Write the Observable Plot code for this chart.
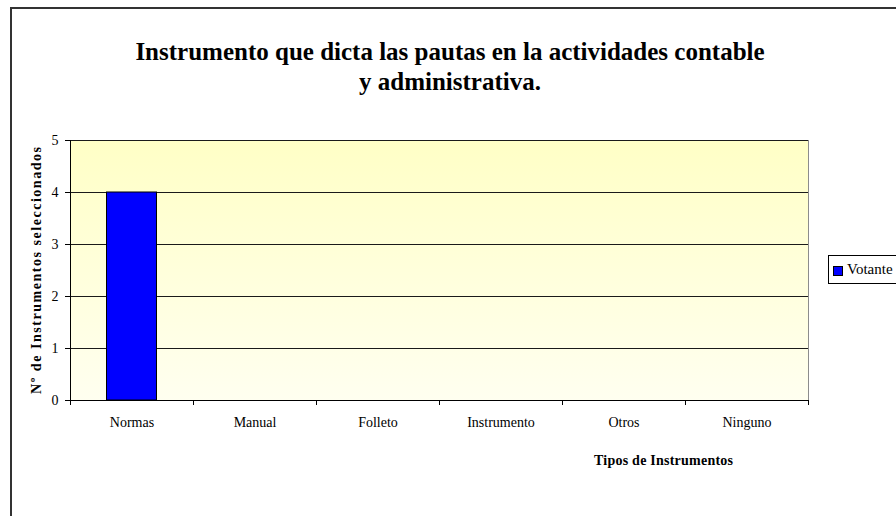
<!DOCTYPE html>
<html><head><meta charset="utf-8">
<script src="https://cdn.jsdelivr.net/npm/d3@7"></script>
<script src="https://cdn.jsdelivr.net/npm/@observablehq/plot@0.6"></script>
<style>
body{margin:0;background:#fff;}
#wrap{position:relative;width:896px;height:516px;overflow:hidden;background:#fff;font-family:"Liberation Serif","Times New Roman",serif;color:#000;}
#border{position:absolute;left:10px;top:7px;width:900px;height:520px;border-left:2px solid #333;border-top:2px solid #333;}
#chart{position:absolute;left:0;top:0;}
#chart svg, #chart svg text{font-family:"Liberation Serif","Times New Roman",serif !important;}
#title{position:absolute;left:0;top:37px;width:900px;text-align:center;font-weight:bold;font-size:25px;line-height:30px;}
#legend{position:absolute;left:828px;top:255px;width:80px;height:27px;border:1px solid #000;background:#fff;font-size:15px;}
#legend .sw{position:absolute;left:4px;top:10px;width:8px;height:8px;background:#0000ff;border:1px solid #000;}
#legend .lb{position:absolute;left:18px;top:5px;line-height:17px;}
</style></head>
<body>
<div id="wrap">
  <div id="border"></div>
  <div id="chart"></div>
  <div id="title">Instrumento que dicta las pautas en la actividades contable<br>y administrativa.</div>
  <div id="legend"><div class="sw"></div><div class="lb">Votante</div></div>
</div>
<script>
const categories = ["Normas", "Manual", "Folleto", "Instrumento", "Otros", "Ninguno"];
const votantes = [4, 0, 0, 0, 0, 0];
const yTicks = [0, 1, 2, 3, 4, 5];
const seriesName = "Votante";
const xLabel = "Tipos de Instrumentos";
const yLabel = "Nº de Instrumentos seleccionados";

const data = categories.map((c, i) => ({cat: c, value: votantes[i], serie: seriesName}));
const font = '"Liberation Serif","Times New Roman",serif';

const defs = () => {
  const d = d3.create("svg:defs");
  const g = d.append("linearGradient").attr("id", "bgGrad")
    .attr("x1", 0).attr("y1", 0).attr("x2", 0).attr("y2", 1);
  g.append("stop").attr("offset", "0%").attr("stop-color", "#ffffc6");
  g.append("stop").attr("offset", "100%").attr("stop-color", "#fffff0");
  return d.node();
};

const chart = Plot.plot({
  width: 896,
  height: 516,
  marginLeft: 70,
  marginRight: 88,
  marginTop: 140,
  marginBottom: 116,
  style: {fontFamily: font, fontSize: "13px", color: "#000", background: "transparent", overflow: "visible"},
  x: {domain: categories, padding: 0, label: null},
  y: {domain: [0, 5], label: null},
  marks: [
    defs,
    Plot.frame({fill: "url(#bgGrad)", stroke: "#8c8c8c"}),
    Plot.gridY(yTicks.filter(d => d > 0), {stroke: "#1a1a1a", strokeOpacity: 1}),
    Plot.barY(data.filter(d => d.value > 0), {x: "cat", y: "value", fill: "#0000ff", stroke: "#000", insetLeft: 36.5, insetRight: 36.5}),
    Plot.ruleY([0], {stroke: "#000"}),
    Plot.ruleX([categories[0]], {x: d => d, dx: -61.5, stroke: "#000"}),
    Plot.ruleX(categories, {x: d => d, dx: -61.5, insetTop: 260, insetBottom: -5, stroke: "#000"}),
    Plot.ruleX([categories[categories.length - 1]], {x: d => d, dx: 61.5, insetTop: 260, insetBottom: -5, stroke: "#000"}),
    Plot.axisY({ticks: yTicks, tickFormat: "d", tickSize: 5, tickPadding: 7, fontSize: 14, label: null, stroke: "#000"}),
    Plot.axisX({tickSize: 0, tickPadding: 17, fontSize: 14, label: null}),
    Plot.text([yLabel], {text: d => d, frameAnchor: "left", dx: -34, rotate: -90, textAnchor: "middle", lineAnchor: "middle", fontWeight: "bold", fontSize: 14, fill: "#000", className: "ylab"}),
    Plot.text([xLabel], {text: d => d, frameAnchor: "bottom", dx: 224, dy: 60, textAnchor: "middle", lineAnchor: "middle", fontWeight: "bold", fontSize: 14, fill: "#000", className: "xlab"})
  ]
});
d3.select(chart).selectAll(".ylab text").attr("textLength", 247).attr("lengthAdjust", "spacing");
d3.select(chart).selectAll(".xlab text").attr("textLength", 139).attr("lengthAdjust", "spacing");
document.getElementById("chart").append(chart);
</script>
</body></html>
